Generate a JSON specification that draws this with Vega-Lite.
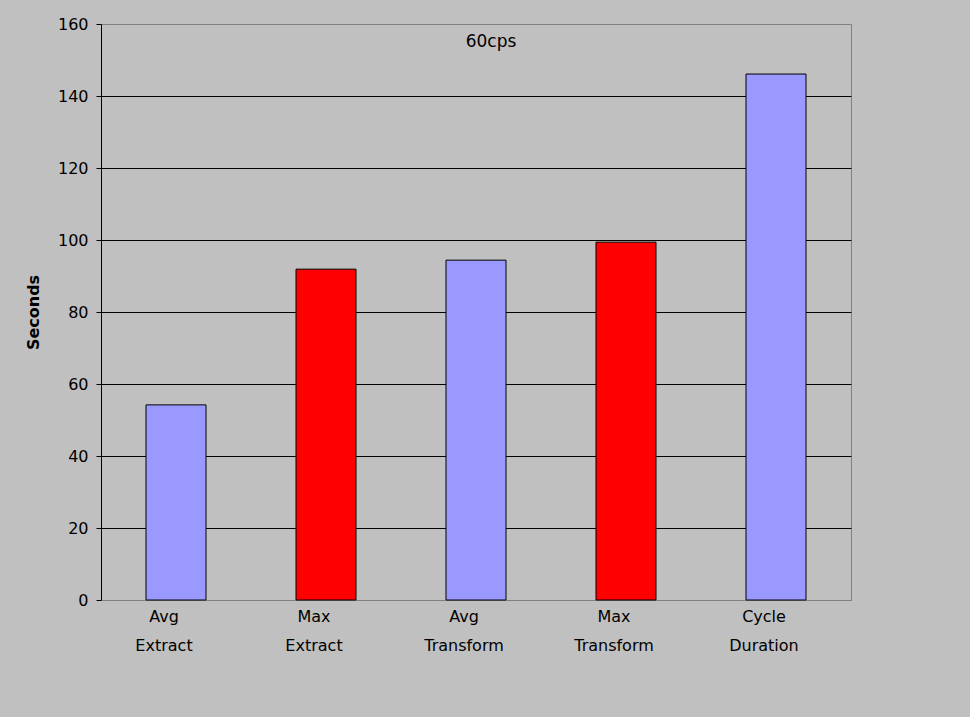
{
  "$schema": "https://vega.github.io/schema/vega-lite/v6.json",
  "autosize": "none",
  "width": 750,
  "height": 576,
  "padding": {"left": 101, "top": 24, "right": 119, "bottom": 117},
  "background": "#C0C0C0",
  "title": {"text": "60cps", "orient": "top", "anchor": "middle", "offset": -35, "dx": 15, "fontSize": 17, "fontWeight": "normal", "font": "DejaVu Sans", "color": "black"},
  "data": {"values": [
    {"measure": "Avg Extract", "kind": "Avg", "seconds": 54.2},
    {"measure": "Max Extract", "kind": "Max", "seconds": 91.9},
    {"measure": "Avg Transform", "kind": "Avg", "seconds": 94.4},
    {"measure": "Max Transform", "kind": "Max", "seconds": 99.4},
    {"measure": "Cycle Duration", "kind": "Avg", "seconds": 146.1}
  ]},
  "mark": {"type": "bar", "stroke": "black", "strokeWidth": 1},
  "encoding": {
    "x": {
      "field": "measure", "type": "nominal", "sort": null,
      "scale": {"paddingInner": 0.6, "paddingOuter": 0.3},
      "axis": {
        "title": null, "domain": false, "ticks": false, "labelAngle": 0,
        "labelExpr": "split(datum.label, ' ')", "labelLineHeight": 29,
        "labelFontSize": 16, "labelFont": "DejaVu Sans", "labelColor": "black",
        "labelPadding": 8, "labelBaseline": "top", "labelOffset": -12
      }
    },
    "y": {
      "field": "seconds", "type": "quantitative",
      "scale": {"domain": [0, 160], "nice": false},
      "axis": {
        "title": "Seconds", "titleFont": "DejaVu Sans", "titleFontSize": 16, "titleFontWeight": "bold", "titleColor": "black", "titlePadding": 16,
        "values": [0, 20, 40, 60, 80, 100, 120, 140, 160],
        "grid": true,
        "gridColor": {"condition": {"test": "datum.value == 160 || datum.value == 0", "value": "#808080"}, "value": "black"},
        "gridOpacity": 1, "gridWidth": 1,
        "domainColor": "black", "tickColor": "black", "tickSize": 5,
        "labelFontSize": 16, "labelFont": "DejaVu Sans", "labelColor": "black", "labelPadding": 8
      }
    },
    "color": {"field": "kind", "type": "nominal", "scale": {"domain": ["Avg", "Max"], "range": ["#9999FF", "#FF0000"]}, "legend": null}
  },
  "config": {"view": {"stroke": "#808080", "strokeWidth": 1}}
}
